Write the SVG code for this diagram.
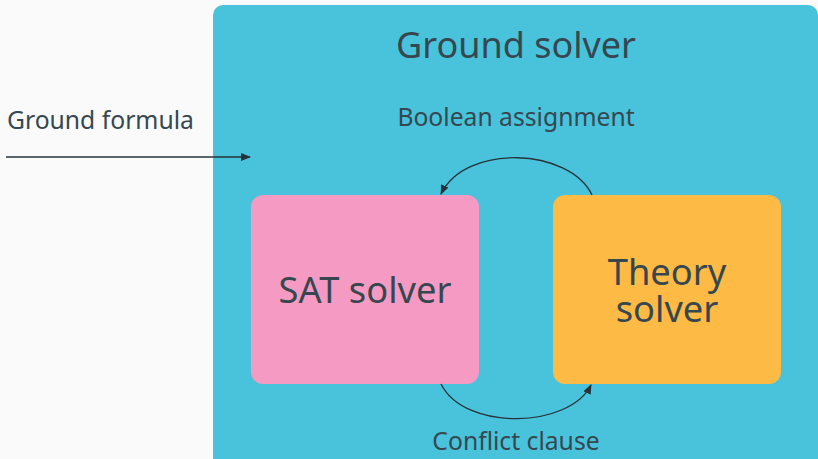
<svg xmlns="http://www.w3.org/2000/svg" width="818" height="459" viewBox="0 0 818 459">
<defs>
<marker id="ah" viewBox="0 0 10 10" refX="9" refY="5" markerWidth="10" markerHeight="10" markerUnits="userSpaceOnUse" orient="auto">
<path d="M0,1 L10,5 L0,9 z" fill="#263238"/>
</marker>
<style>
text{font-family:"Noto Sans","Open Sans",sans-serif;fill:#37474f;}
.lbl{font-size:24.7px;}
.big{font-size:36.3px;}
.edge{fill:none;stroke:#263238;stroke-width:1.3;marker-end:url(#ah);}
</style>
</defs>
<rect width="818" height="459" fill="#fafafa"/>
<g id="ground-solver">
<rect x="213" y="5" width="605" height="470" rx="10" fill="#48c3db"/>
<text x="516" y="58" text-anchor="middle" style="font-size:36px">Ground solver</text>
</g>
<g id="sat-solver">
<rect x="251" y="195" width="228" height="189" rx="12" fill="#f49ac3"/>
<text x="365" y="303" text-anchor="middle" class="big">SAT solver</text>
</g>
<g id="theory-solver">
<rect x="553" y="195" width="228" height="189" rx="12" fill="#fdba45"/>
<text text-anchor="middle" class="big"><tspan x="667" y="285">Theory</tspan><tspan x="667" y="322">solver</tspan></text>
</g>
<g id="connectors">
<path class="edge" d="M6,157 L250,157"/>
<path class="edge" d="M592,195 C570,148 465,143 441,194"/>
<path class="edge" d="M441,384 C465,432 570,428 591,385"/>
</g>
<g id="labels">
<text x="7" y="129" class="lbl">Ground formula</text>
<text x="516" y="126" text-anchor="middle" class="lbl">Boolean assignment</text>
<text x="516" y="450" text-anchor="middle" class="lbl">Conflict clause</text>
</g>
</svg>
